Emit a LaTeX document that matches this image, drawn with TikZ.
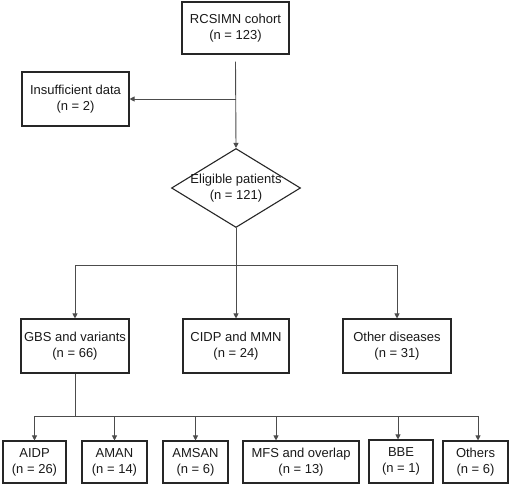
\documentclass[tikz,border=0pt]{standalone}
\usepackage{fontspec}
\setmainfont{Liberation Sans}
\usetikzlibrary{shapes.geometric,arrows.meta}
\tikzset{
  box/.style={draw=black!85,line width=1.1pt,inner sep=0pt,align=center,
              font=\fontsize{13}{16}\selectfont,text=black!90},
  line/.style={draw=black!70,line width=0.9pt},
  arr/.style={line,-{Triangle[width=5pt,length=5pt]}}
}
\begin{document}
\begin{tikzpicture}[x=1pt,y=-1pt]
\useasboundingbox (0,0) rectangle (510,487);
%---------------------------------------------------
\node[box,minimum width=107pt,minimum height=52pt] (cohort) at (235.5,28) {RCSIMN cohort\\(n = 123)};
\node[box,minimum width=107pt,minimum height=54pt] (insuff) at (75.5,99) {Insufficient data\\(n = 2)};
\node[box,shape=diamond,aspect=1.63,inner sep=-3.5pt,minimum width=129pt,minimum height=79pt] (elig) at (236,188) {Eligible patients\\(n = 121)};
%---------------------------------------------------
\node[box,minimum width=108pt,minimum height=54pt] (gbs) at (75,346) {GBS and variants\\(n = 66)};
\node[box,minimum width=106pt,minimum height=54pt] (cidp) at (236,346) {CIDP and MMN\\(n = 24)};
\node[box,minimum width=108pt,minimum height=54pt] (other) at (397,346) {Other diseases\\(n = 31)};
%---------------------------------------------------
\node[box,minimum width=63pt,minimum height=42pt] (aidp) at (34.5,462) {AIDP\\(n = 26)};
\node[box,minimum width=65pt,minimum height=42pt] (aman) at (114.5,462) {AMAN\\(n = 14)};
\node[box,minimum width=65pt,minimum height=42pt] (amsan) at (195.5,462) {AMSAN\\(n = 6)};
\node[box,minimum width=116pt,minimum height=42pt] (mfs) at (301,462) {MFS and overlap\\(n = 13)};
\node[box,minimum width=64pt,minimum height=43pt] (bbe) at (401,461.5) {BBE\\(n = 1)};
\node[box,minimum width=65pt,minimum height=42pt] (others) at (475.5,462) {Others\\(n = 6)};
%---------------------------------------------------
\coordinate (isplit) at (236,99);
\coordinate (esplit) at (236,265);
\coordinate (gsplit) at (75,416);
\draw[arr] ([yshift=-7pt]cohort.south) -- (elig.north);
\draw[arr] (isplit) -- (insuff.east);
\draw[line] (elig.south) -- (esplit);
\draw[arr] (esplit) -| (gbs.north);
\draw[arr] (esplit) -- (cidp.north);
\draw[arr] (esplit) -| (other.north);
%---------------------------------------------------
\draw[line] (gbs.south) -- (gsplit);
\draw[arr] (gsplit) -| (aidp.north);
\draw[arr] (gsplit) -| (aman.north);
\draw[arr] (gsplit) -| (amsan.north);
\draw[arr] (gsplit) -| ([xshift=-25pt]mfs.north);
\draw[arr] (gsplit) -| ([xshift=-3pt]bbe.north);
\draw[arr] (gsplit) -| ([xshift=2.5pt]others.north);
\end{tikzpicture}
\end{document}
